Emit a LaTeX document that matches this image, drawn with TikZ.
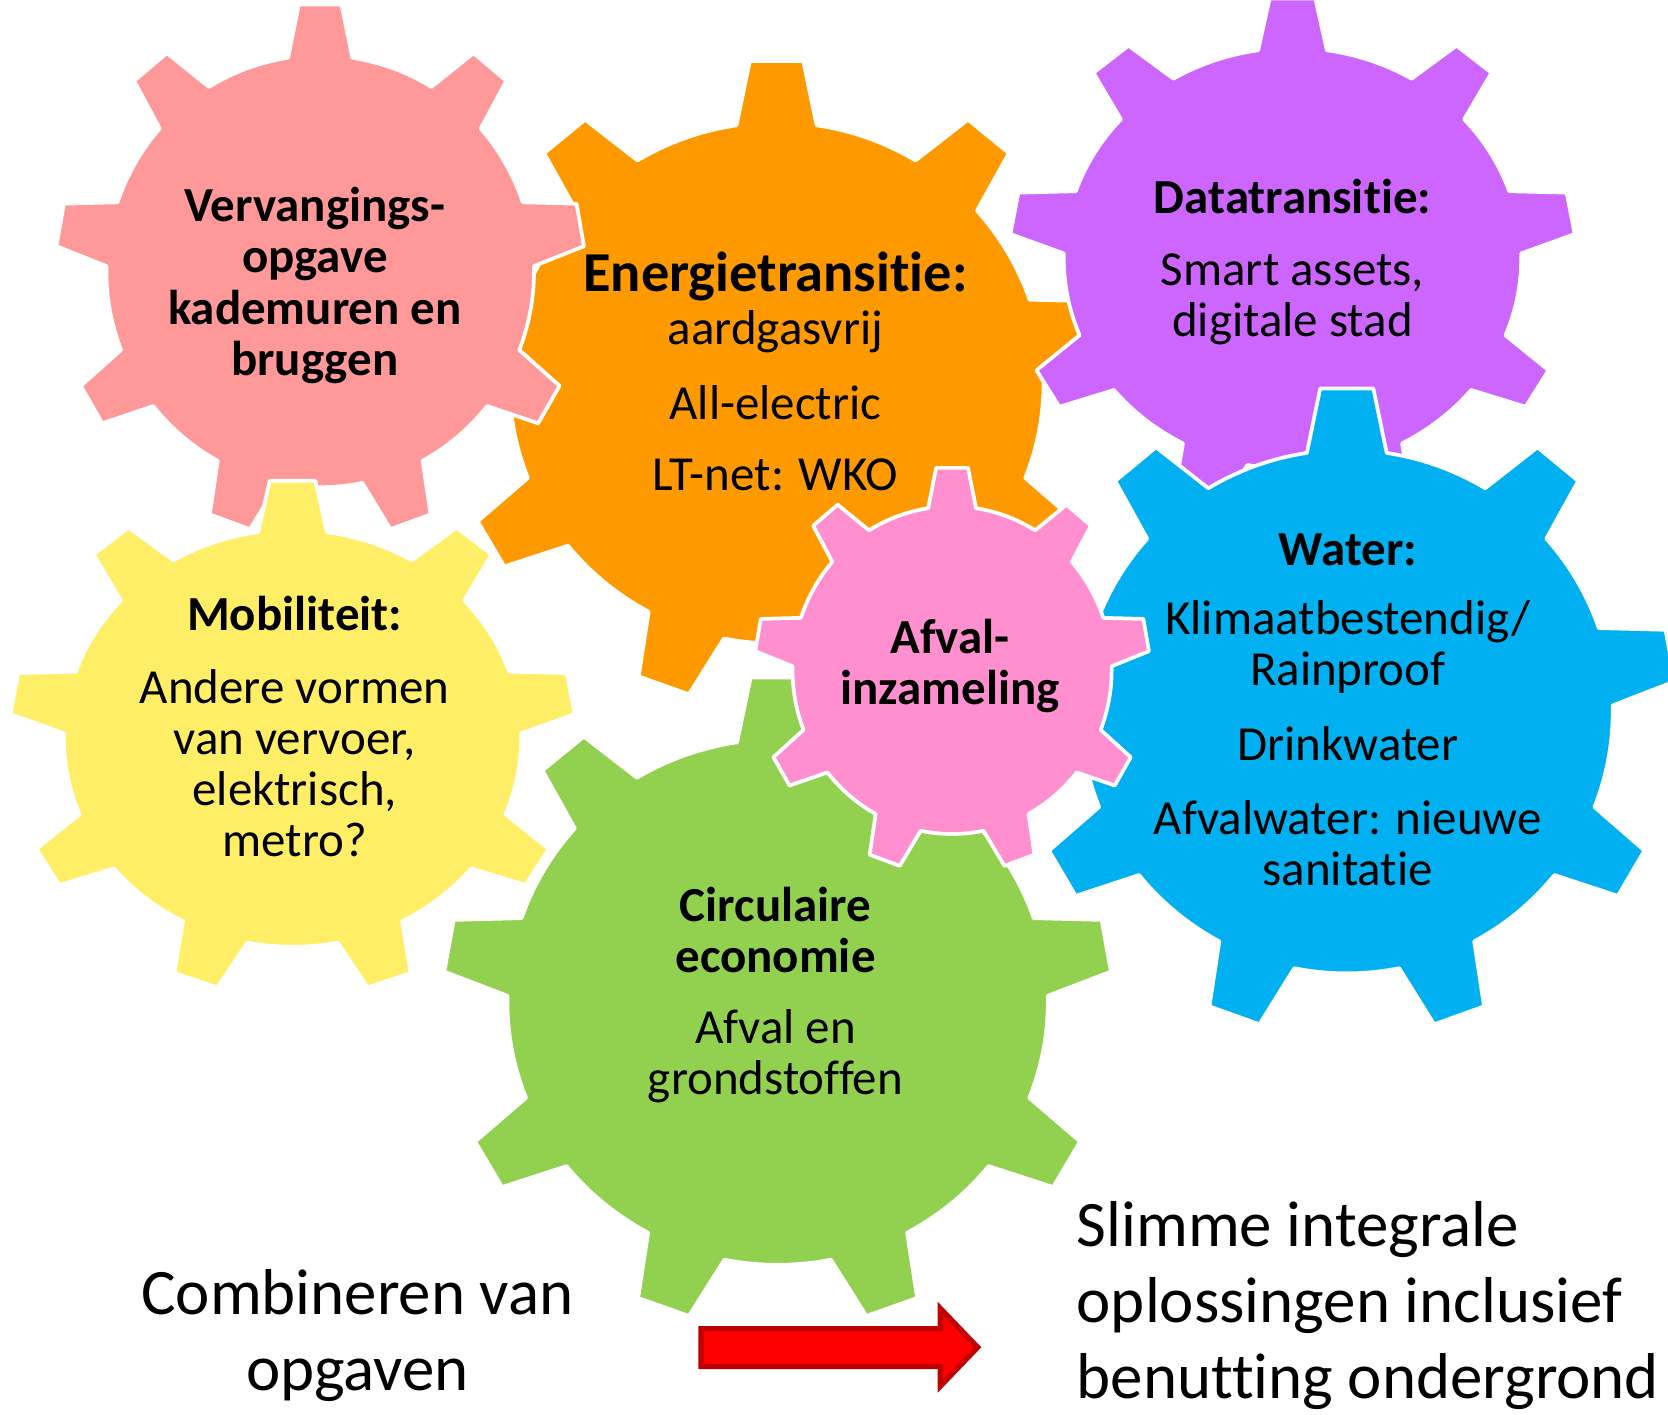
\documentclass[tikz,border=0pt]{standalone}
\usepackage{fontspec}
\setmainfont{Carlito}[Ligatures={NoCommon,NoContextual}]
\definecolor{cOrange}{HTML}{FF9900}
\definecolor{cRose}{HTML}{FF9999}
\definecolor{cPurple}{HTML}{CC66FF}
\definecolor{cBlue}{HTML}{00B0F0}
\definecolor{cYellow}{HTML}{FFEE66}
\definecolor{cGreen}{HTML}{92D050}
\definecolor{cPink}{HTML}{FF8FCF}
\definecolor{cArrowEdge}{HTML}{C00000}
\newcommand\geardraw[6]{%
  \begin{scope}[shift={(#1,#2)}, xscale=#3, yscale=#4]
    \fill[#5, draw=white, line width=3.5pt, line join=round] (261.37:1)
      foreach \i in {0,...,8} {
        -- ({270+40*\i-4.63}:1.239) -- ({270+40*\i+4.63}:1.239)
        -- ({270+40*\i+8.63}:1)
        arc[start angle={270+40*\i+8.63}, end angle={310+40*\i-8.63}, radius=1]
      } -- cycle;
    \coordinate (#6) at (0,0);
  \end{scope}}
\tikzset{
  txt/.style={inner sep=0pt, anchor=base, text=black, font=\fontsize{46}{48}\selectfont},
  btxt/.style={inner sep=0pt, anchor=base, text=black, font=\fontsize{46}{48}\selectfont\bfseries},
  bigtxt/.style={inner sep=0pt, anchor=base, text=black, font=\fontsize{61}{64}\selectfont},
}
\begin{document}
\begin{tikzpicture}[x=1pt, y=-1pt]
\useasboundingbox (0,0) rectangle (1568,1330);
\clip (0,0) rectangle (1568,1330);
% gears, back to front
\geardraw{730}{360}{251}{245}{cOrange}{gOrange}
\geardraw{301}{255}{201}{203}{cRose}{gRose}
\geardraw{1215}{243}{215}{198}{cPurple}{gPurple}
\geardraw{1266}{669}{250}{246}{cBlue}{gBlue}
\geardraw{275}{694}{215}{196}{cYellow}{gYellow}
\geardraw{731}{942}{254}{247}{cGreen}{gGreen}
\geardraw{895}{630}{150}{154}{cPink}{gPink}
% texts: Vervangingsopgave
\node[btxt] (v1) at (296,208) {Vervangings-};
\node[btxt] (v2) at (296,256) {opgave};
\node[btxt] (v3) at (296,305) {kademuren en};
\node[btxt] (v4) at (296,353) {bruggen};
% Energietransitie
\node[inner sep=0pt, anchor=base, font=\fontsize{53}{55}\selectfont\bfseries] (e1) at (729,274) {Energietransitie:};
\node[txt] (e2) at (729,324) {aardgasvrij};
\node[txt] (e3) at (729,394) {All-electric};
\node[txt] (e4) at (729,461) {LT-net: WKO};
% Datatransitie
\node[btxt] (d1) at (1215,201) {Datatransitie:};
\node[txt] (d2) at (1215,268) {Smart assets,};
\node[txt] (d3) at (1215,316) {digitale stad};
% Mobiliteit
\node[btxt] (m1) at (277,593) {Mobiliteit:};
\node[txt] (m2) at (277,661) {Andere vormen};
\node[txt] (m3) at (277,709) {van vervoer,};
\node[txt] (m4) at (277,757) {elektrisch,};
\node[txt] (m5) at (277,805) {metro?};
% Afvalinzameling
\node[btxt] (a1) at (893,614) {Afval-};
\node[btxt] (a2) at (893,662) {inzameling};
% Water
\node[btxt] (w1) at (1267,532) {Water:};
\node[txt] (w2) at (1267,596) {Klimaatbestendig/};
\node[txt] (w3) at (1267,644) {Rainproof};
\node[txt] (w4) at (1267,715) {Drinkwater};
\node[txt] (w5) at (1267,784) {Afvalwater: nieuwe};
\node[txt] (w6) at (1267,832) {sanitatie};
% Circulaire economie
\node[btxt] (c1) at (729,866) {Circulaire};
\node[btxt] (c2) at (729,914) {economie};
\node[txt] (c3) at (729,981) {Afval en};
\node[txt] (c4) at (729,1029) {grondstoffen};
% bottom texts
\node[bigtxt] (b1) at (336,1236) {Combineren van};
\node[bigtxt] (b2) at (336,1307) {opgaven};
\node[bigtxt, anchor=base west] (s1) at (1012,1172) {Slimme integrale};
\node[bigtxt, anchor=base west] (s2) at (1012,1243) {oplossingen inclusief};
\node[bigtxt, anchor=base west] (s3) at (1012,1315) {benutting ondergrond};
% arrow
\fill[red, draw=cArrowEdge, line width=5pt, line join=miter]
  (659,1249) -- (884,1249) -- (884,1230) -- (919,1266.5) -- (884,1303) -- (884,1284.5) -- (659,1284.5) -- cycle;
\end{tikzpicture}
\end{document}
